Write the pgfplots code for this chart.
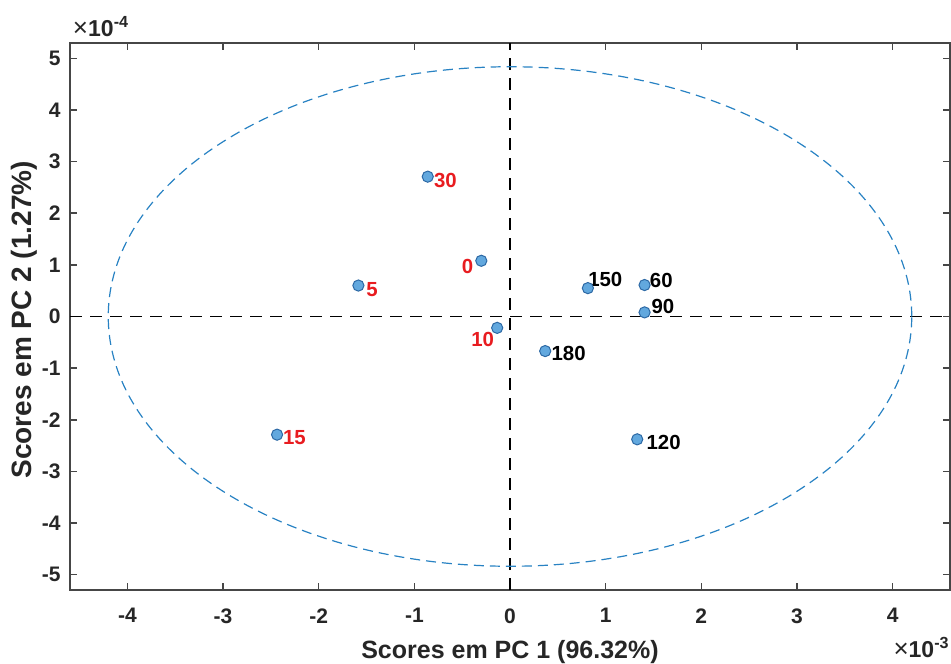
\documentclass[border=0pt]{standalone}
\usepackage{pgfplots}
\pgfplotsset{compat=1.18}
\usepackage{fontspec}
\setmainfont{Liberation Sans}
\definecolor{mkfill}{RGB}{98,168,222}
\definecolor{mkedge}{RGB}{45,105,165}
\definecolor{ellc}{RGB}{40,130,195}
\definecolor{lblred}{RGB}{232,28,32}
\definecolor{axgray}{RGB}{70,70,70}
\begin{document}
\begin{tikzpicture}
\useasboundingbox (0,0) rectangle (475.5pt,331.5pt);
\begin{axis}[
  at={(35pt,36.5pt)}, anchor=south west,
  scale only axis, width=440pt, height=273.5pt,
  xmin=-4.6, xmax=4.6, ymin=-5.3, ymax=5.3,
  xtick={-4,-3,-2,-1,0,1,2,3,4},
  ytick={-5,-4,-3,-2,-1,0,1,2,3,4,5},
  tick align=inside, major tick length=3.5pt,
  axis line style={axgray, line width=0.8pt},
  every tick/.style={axgray, line width=0.8pt},
  /pgf/number format/assume math mode=true,
  ticklabel style={font=\fontsize{10.5}{12}\bfseries, text=black!85},
  xticklabel style={inner sep=0pt, anchor=north, yshift=-9pt},
  yticklabel style={inner sep=0pt, anchor=east, xshift=-4.5pt},
  xlabel={Scores em PC 1 (96.32\%)},
  ylabel={Scores em PC 2 (1.27\%)},
  xlabel style={font=\fontsize{12.5}{14}\bfseries, text=black!85, at={(axis description cs:0.5,0)}, anchor=base, yshift=-34pt},
  ylabel style={font=\fontsize{14}{16}\bfseries, text=black!85, at={(axis description cs:-0.0443,0.494)}, anchor=base},
  clip=false,
]
\addplot[black, line width=0.75pt, dash pattern=on 6pt off 4pt] coordinates {(-4.6,0) (4.6,0)};
\addplot[black, line width=0.75pt, dash pattern=on 6pt off 4pt] coordinates {(0,-5.3) (0,5.3)};
\draw[ellc, line width=0.6pt, dash pattern=on 5pt off 3pt] (axis cs:0,0) ellipse [x radius=4.2, y radius=4.84];
\addplot[only marks, mark=*, mark size=2.8pt, mark options={fill=mkfill, draw=mkedge, line width=0.5pt}] coordinates {
  (-0.86,2.71) (-0.30,1.08) (-1.585,0.60) (-0.134,-0.22) (-2.435,-2.29)
  (0.814,0.55) (1.407,0.61) (1.407,0.08) (0.368,-0.67) (1.33,-2.38)
};
\begin{scope}[every node/.style={font=\fontsize{10.2}{12}\bfseries, inner sep=0pt}]
\node[lblred, anchor=west, xshift=3pt, yshift=-2pt] at (axis cs:-0.86,2.71) {30};
\node[lblred, anchor=east, xshift=-3.9pt, yshift=-2.9pt] at (axis cs:-0.30,1.08) {0};
\node[lblred, anchor=west, xshift=3.8pt, yshift=-1.8pt] at (axis cs:-1.585,0.60) {5};
\node[lblred, anchor=east, xshift=-1.35pt, yshift=-5.8pt] at (axis cs:-0.134,-0.22) {10};
\node[lblred, anchor=west, xshift=2.8pt, yshift=-1.7pt] at (axis cs:-2.435,-2.29) {15};
\node[black, anchor=west, xshift=0pt, yshift=4.5pt] at (axis cs:0.814,0.55) {150};
\node[black, anchor=west, xshift=2.5pt, yshift=2.5pt] at (axis cs:1.407,0.61) {60};
\node[black, anchor=west, xshift=3.3pt, yshift=2.8pt] at (axis cs:1.407,0.08) {90};
\node[black, anchor=west, xshift=3pt, yshift=-1.2pt] at (axis cs:0.368,-0.67) {180};
\node[black, anchor=west, xshift=4.5pt, yshift=-1.7pt] at (axis cs:1.33,-2.38) {120};
\end{scope}
\node[anchor=base west, font=\fontsize{11.5}{12}\bfseries, text=black!85, inner sep=0pt, xshift=1.3pt, yshift=3.5pt] at (rel axis cs:0,1) {{\mdseries\fontsize{13}{13}\selectfont ×}10\textsuperscript{-4}};
\node[anchor=base east, font=\fontsize{11.5}{12}\bfseries, text=black!85, inner sep=0pt, yshift=-33.5pt] at (rel axis cs:1,0) {{\mdseries\fontsize{13}{13}\selectfont ×}10\textsuperscript{-3}};
\end{axis}
\end{tikzpicture}
\end{document}
